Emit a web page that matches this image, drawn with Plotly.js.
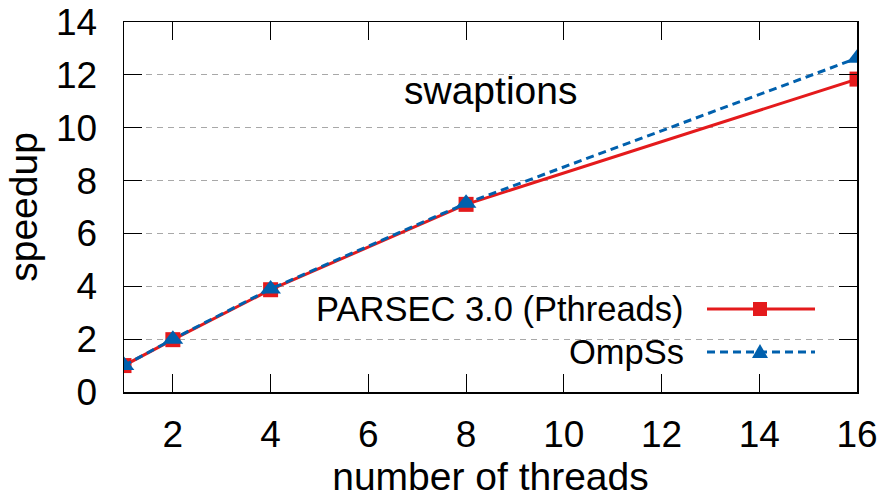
<!DOCTYPE html>
<html>
<head>
<meta charset="utf-8">
<script src="https://cdn.plot.ly/plotly-3.0.1.min.js"></script>
<style>html,body{margin:0;padding:0;background:#fff;}#chart{width:885px;height:498px;}</style>
</head>
<body>
<div id="chart"></div>
<script>
const threads = [1, 2, 4, 8, 16];
const parsecSpeedup = [1.0, 1.98, 3.87, 7.1, 11.84];
const ompssSpeedup = [1.0, 2.0, 3.9, 7.14, 12.63];
const seriesNames = ["PARSEC 3.0 (Pthreads)", "OmpSs"];
const xTicks = [2, 4, 6, 8, 10, 12, 14, 16];
const yTicks = [0, 2, 4, 6, 8, 10, 12, 14];
const chartTitle = "swaptions";

const RED = "#e41a1c";
const BLUE = "#0060ad";
const FONT = "Liberation Sans, Arial, sans-serif";

const traces = [
  {x: threads, y: parsecSpeedup, name: seriesNames[0], mode: "lines+markers",
   line: {color: RED, width: 3}, marker: {symbol: "square", size: 15, color: RED}},
  {x: threads, y: ompssSpeedup, name: seriesNames[1], mode: "lines+markers",
   line: {color: BLUE, width: 3, dash: "8px,5px"}, marker: {symbol: "triangle-up", size: 18, color: BLUE}}
];

const L = 124, R = 857, T = 22, B = 392;
const W = R - L, H = B - T;
const px = v => (v - L) / W;
const py = v => (B - v) / H;

const legY = [309, 352];
const lx0 = px(707), lx1 = px(815), lmid = px(760);

const layout = {
  width: 885, height: 498,
  margin: {l: L, r: 885 - R, t: T, b: 498 - B, pad: 0},
  paper_bgcolor: "#fff", plot_bgcolor: "#fff",
  showlegend: false,
  font: {family: FONT, color: "#000", size: 34},
  xaxis: {
    range: [1, 16], tickvals: xTicks, ticktext: xTicks.map(String),
    ticks: "inside", ticklen: 18, tickwidth: 1, tickcolor: "#000",
    mirror: "allticks", showline: true, linecolor: "#000", linewidth: 1.5,
    showgrid: false, zeroline: false,
    tickfont: {size: 37, family: FONT}, ticklabelstandoff: 9,
    title: {text: "number of threads", font: {size: 39, family: FONT}, standoff: 2}
  },
  yaxis: {
    range: [0, 14], tickvals: yTicks, ticktext: yTicks.map(String),
    ticks: "inside", ticklen: 18, tickwidth: 1, tickcolor: "#000",
    mirror: "allticks", showline: true, linecolor: "#000", linewidth: 1.5,
    showgrid: true, gridcolor: "#a8a8a8", gridwidth: 1, griddash: "6px,5px",
    zeroline: false,
    tickfont: {size: 37, family: FONT}, ticklabelstandoff: 18,
    title: {text: "speedup", font: {size: 39, family: FONT}, standoff: 6}
  },
  annotations: [
    {text: chartTitle, xref: "paper", yref: "paper", x: 0.5, y: py(90), xanchor: "center", yanchor: "middle",
     showarrow: false, font: {size: 39, family: FONT}},
    {text: seriesNames[0], xref: "paper", yref: "paper", x: px(686), y: py(legY[0]), xanchor: "right", yanchor: "middle",
     showarrow: false, font: {size: 34.5, family: FONT}},
    {text: seriesNames[1], xref: "paper", yref: "paper", x: px(686), y: py(legY[1]), xanchor: "right", yanchor: "middle",
     showarrow: false, font: {size: 34.5, family: FONT}}
  ],
  shapes: [
    {type: "rect", xref: "paper", yref: "paper", x0: px(226), x1: 1, y0: 0.003, y1: py(289),
     fillcolor: "#fff", line: {width: 0}, layer: "between"},
    {type: "line", xref: "paper", yref: "paper", x0: lx0, x1: lx1, y0: py(legY[0]), y1: py(legY[0]),
     line: {color: RED, width: 3}},
    {type: "line", xref: "paper", yref: "paper", x0: lx0, x1: lx1, y0: py(legY[1]), y1: py(legY[1]),
     line: {color: BLUE, width: 3, dash: "8px,5px"}},
    {type: "rect", xref: "paper", yref: "paper", xsizemode: "pixel", ysizemode: "pixel",
     xanchor: lmid, yanchor: py(legY[0]), x0: -7, x1: 7, y0: -7, y1: 7,
     fillcolor: RED, line: {width: 0}},
    {type: "path", xref: "paper", yref: "paper", xsizemode: "pixel", ysizemode: "pixel",
     xanchor: lmid, yanchor: py(legY[1]), path: "M-8,-6 L8,-6 L0,8 Z",
     fillcolor: BLUE, line: {width: 0}}
  ]
};

Plotly.newPlot("chart", traces, layout, {staticPlot: true, displayModeBar: false});
</script>
</body>
</html>
